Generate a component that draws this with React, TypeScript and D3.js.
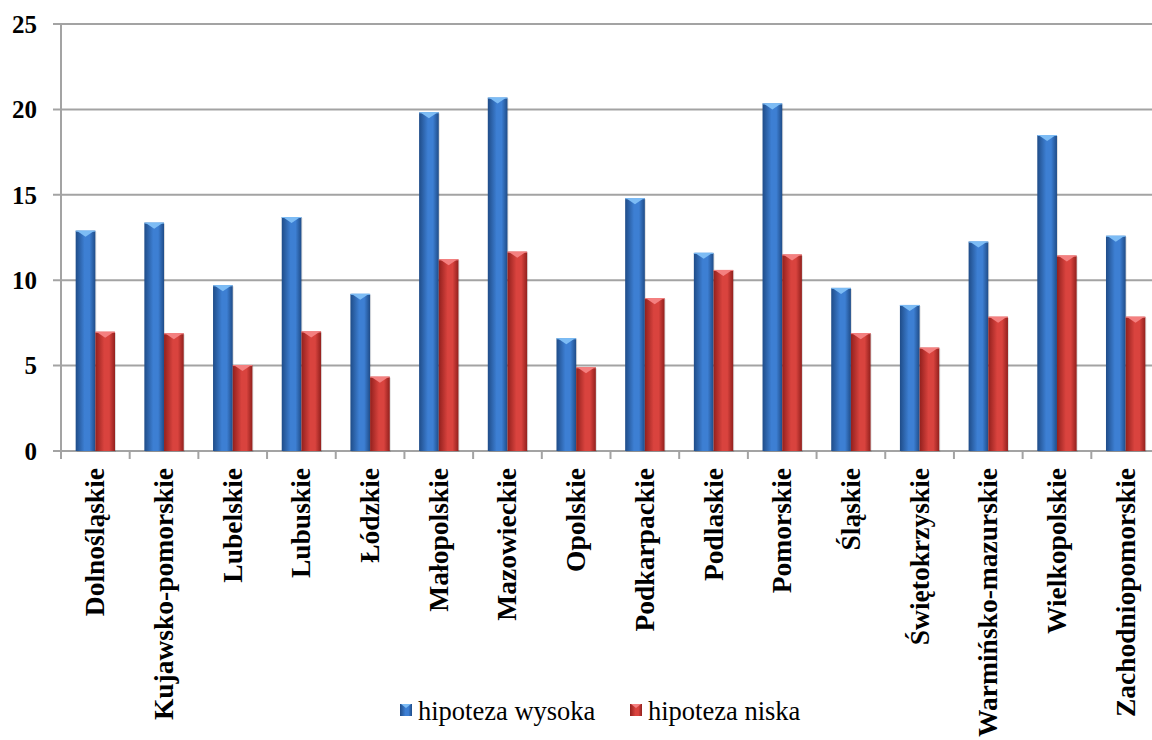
import React from 'react';
import * as d3 from 'd3';

const categories = [
  'Dolnośląskie', 'Kujawsko-pomorskie', 'Lubelskie', 'Lubuskie', 'Łódzkie',
  'Małopolskie', 'Mazowieckie', 'Opolskie', 'Podkarpackie', 'Podlaskie',
  'Pomorskie', 'Śląskie', 'Świętokrzyskie', 'Warmińsko-mazurskie',
  'Wielkopolskie', 'Zachodniopomorskie',
];
const seriesNames = ['hipoteza wysoka', 'hipoteza niska'];
const wysoka = [12.9, 13.37, 9.7, 13.7, 9.2, 19.83, 20.69, 6.6, 14.8, 11.6, 20.35, 9.55, 8.55, 12.26, 18.5, 12.6];
const niska = [6.98, 6.89, 5.03, 7.0, 4.35, 11.22, 11.67, 4.9, 8.95, 10.6, 11.5, 6.9, 6.05, 7.86, 11.44, 7.86];
const yTicks = [0, 5, 10, 15, 20, 25];

const W = 1152;
const H = 740;
const left = 61;
const right = 1160;
const top = 24;
const bottom = 451;

const serif = '"Liberation Serif", "Times New Roman", serif';

const palette = [
  { edge: '#1f4c88', mid: '#3d7fd3', cap: '#7dbcf5', id: 'gBlue' },
  { edge: '#92201d', mid: '#d9433e', cap: '#f48080', id: 'gRed' },
];

export default function App() {
  const x0 = d3.scaleBand<string>().domain(categories).range([left, right]).paddingInner(0).paddingOuter(0);
  const x1 = d3.scaleBand<string>().domain(seriesNames).range([0, x0.bandwidth()]).paddingInner(0).paddingOuter(0.745);
  const y = d3.scaleLinear().domain([0, 25]).range([bottom, top]);

  const data = [wysoka, niska];

  return (
    <svg width={W} height={H} style={{ position: 'absolute', left: 0, top: 0, background: '#fff' }}>
      <defs>
        {palette.map((p) => (
          <linearGradient key={p.id} id={p.id} x1="0" x2="1" y1="0" y2="0">
            <stop offset="0" stopColor={p.edge} />
            <stop offset="0.45" stopColor={p.mid} />
            <stop offset="0.7" stopColor={p.mid} />
            <stop offset="1" stopColor={p.edge} />
          </linearGradient>
        ))}
      </defs>

      {/* gridlines */}
      {yTicks.map((t) => (
        <g key={t}>
          <line x1={53} x2={W} y1={y(t)} y2={y(t)} stroke="#a3a3a3" strokeWidth={2} />
          <text x={37} y={y(t)} dy="0.35em" textAnchor="end" fontFamily={serif} fontWeight="bold" fontSize={25} fill="#000">
            {t}
          </text>
        </g>
      ))}
      <line x1={left} x2={left} y1={top} y2={bottom + 8} stroke="#a3a3a3" strokeWidth={2} />
      {categories.map((c) => (
        <line key={'t' + c} x1={x0(c)! + x0.bandwidth()} x2={x0(c)! + x0.bandwidth()} y1={bottom} y2={bottom + 8} stroke="#a3a3a3" strokeWidth={2} />
      ))}

      {/* bars */}
      {data.map((vals, si) =>
        vals.map((v, i) => {
          const bx = x0(categories[i])! + x1(seriesNames[si])!;
          const bw = x1.bandwidth();
          const by = y(v);
          const p = palette[si];
          return (
            <g key={si + '-' + i}>
              <rect x={bx + 1} y={by + 1} width={bw} height={bottom - by} fill="#000" opacity={0.12} />
              <rect x={bx} y={by} width={bw} height={bottom - by} fill={`url(#${p.id})`} />
              <path d={`M${bx + 1},${by} L${bx + bw - 1},${by} L${bx + bw / 2},${by + 6} Z`} fill={p.cap} />
              <line x1={bx} x2={bx + bw} y1={by + 0.5} y2={by + 0.5} stroke={p.cap} strokeWidth={1} />
            </g>
          );
        })
      )}

      {/* category labels */}
      {categories.map((c) => {
        const cx = x0(c)! + x0.bandwidth() / 2;
        return (
          <text
            key={'l' + c}
            transform={`translate(${cx + 9},${bottom + 17}) rotate(-90)`}
            textAnchor="end"
            fontFamily={serif}
            fontWeight="bold"
            fontSize={27.5}
            fill="#000"
          >
            {c}
          </text>
        );
      })}

      {/* legend */}
      {seriesNames.map((s, si) => {
        const lx = si === 0 ? 400 : 630;
        const p = palette[si];
        return (
          <g key={'lg' + s}>
            <rect x={lx} y={704} width={12} height={12} fill={`url(#${p.id})`} />
            <path d={`M${lx + 1},${704} L${lx + 11},${704} L${lx + 6},${708} Z`} fill={p.cap} />
            <text x={lx + 18} y={720} fontFamily={serif} fontSize={26.5} fill="#000">
              {s}
            </text>
          </g>
        );
      })}
    </svg>
  );
}
